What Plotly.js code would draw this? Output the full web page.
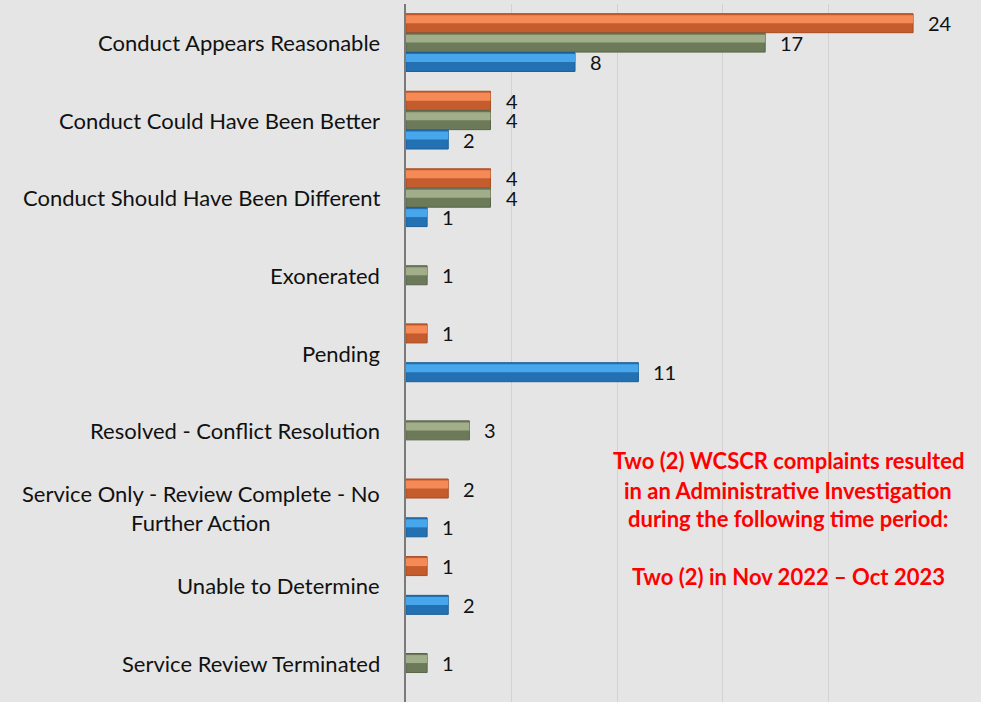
<!DOCTYPE html>
<html>
<head>
<meta charset="utf-8">
<script src="https://cdn.plot.ly/plotly-3.0.1.min.js"></script>
<style>html,body{margin:0;padding:0;background:#e5e5e5;}#chart{width:981px;height:702px;}</style>
</head>
<body>
<div id="chart"></div>
<script>
// ---- data ----
const categories = [
  "Conduct Appears Reasonable",
  "Conduct Could Have Been Better",
  "Conduct Should Have Been Different",
  "Exonerated",
  "Pending",
  "Resolved - Conflict Resolution",
  "Service Only - Review Complete - No Further Action",
  "Unable to Determine",
  "Service Review Terminated"
];
const categoryLabels = [
  "Conduct Appears Reasonable",
  "Conduct Could Have Been Better",
  "Conduct Should Have Been Different",
  "Exonerated",
  "Pending",
  "Resolved - Conflict Resolution",
  "Service Only - Review Complete - No<br>Further Action",
  "Unable to Determine",
  "Service Review Terminated"
];
const seriesNames = ["Period 1", "Period 2", "Period 3"];
const orangeValues = [24, 4, 4, null, 1, null, 2, 1, null];
const greenValues  = [17, 4, 4, 1, null, 3, null, null, 1];
const blueValues   = [8, 2, 1, null, 11, null, 1, 2, null];
const noteLines = [
  "Two (2) WCSCR complaints resulted",
  "in an Administrative Investigation",
  "during the following time period:",
  "Two (2) in Nov 2022 \u2013 Oct 2023"
];

// ---- styling ----
const idx = categories.map((c, i) => i);
const series = [
  {name: seriesNames[0], values: orangeValues, dark: "#c45c2e", light: "#f68a57", line: "#a84c24", offset: -0.375},
  {name: seriesNames[1], values: greenValues,  dark: "#6c7a5a", light: "#a2ad89", line: "#58654a", offset: -0.125},
  {name: seriesNames[2], values: blueValues,   dark: "#2371b3", light: "#47a6ec", line: "#1c5f97", offset: 0.125}
];
const slot = 0.245;
const traces = [];
const annotations = [];
series.forEach(s => {
  traces.push({
    type: "bar", orientation: "h", name: s.name,
    x: s.values, y: idx,
    offset: s.offset, width: slot,
    marker: {color: s.dark, line: {color: s.line, width: 1}},
    hoverinfo: "skip", showlegend: false
  });
  traces.push({
    type: "bar", orientation: "h", name: s.name + " highlight",
    x: s.values, y: idx,
    offset: s.offset + 0.02, width: slot * 0.42,
    marker: {color: s.light, line: {width: 0}},
    hoverinfo: "skip", showlegend: false
  });
  s.values.forEach((v, i) => {
    if (v === null) return;
    annotations.push({
      x: v, y: i + s.offset + slot / 2, xref: "x", yref: "y",
      text: String(v), showarrow: false, xanchor: "left", yanchor: "middle",
      xshift: 13, font: {family: "Lato, 'Open Sans', sans-serif", size: 20, color: "#111111"}
    });
  });
});
categoryLabels.forEach((lab, i) => {
  annotations.push({
    x: 0, y: i, xref: "paper", yref: "y", text: lab, showarrow: false,
    xanchor: "right", yanchor: "middle", align: "center", xshift: -24,
    font: {family: "Lato, 'Open Sans', sans-serif", size: 22, color: "#111111"}
  });
});
const noteY = [0.3453, 0.3037, 0.2636, 0.1791];
noteLines.forEach((t, i) => {
  annotations.push({
    x: 0.7235, y: noteY[i], xref: "paper", yref: "paper", text: t, showarrow: false,
    xanchor: "center", yanchor: "middle",
    font: {family: "Lato, 'Open Sans', sans-serif", size: 22, color: "#ff0000", weight: "bold"}
  });
});

const layout = {
  width: 981, height: 702,
  margin: {l: 406, r: 47, t: 4, b: 0, pad: 0},
  paper_bgcolor: "#e5e5e5", plot_bgcolor: "#e5e5e5",
  barmode: "overlay",
  showlegend: false,
  xaxis: {range: [0, 24.99], dtick: 5, tick0: 0, showgrid: true, gridcolor: "#d2d2d2", gridwidth: 1,
          zeroline: false, showticklabels: false, ticks: "", showline: false, fixedrange: true},
  yaxis: {range: [8.5, -0.5], showticklabels: false, ticks: "", showgrid: false, zeroline: false,
          showline: true, linecolor: "#7a7a7a", linewidth: 2, fixedrange: true},
  annotations: annotations
};
Plotly.newPlot("chart", traces, layout, {displayModeBar: false, staticPlot: true});
</script>
</body>
</html>
